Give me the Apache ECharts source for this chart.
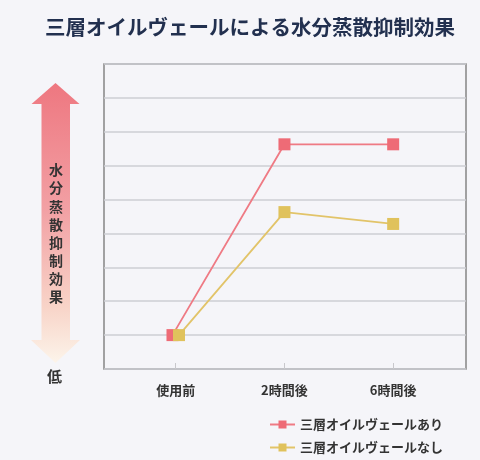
<!DOCTYPE html>
<html>
<head>
<meta charset="utf-8">
<script src="https://cdn.jsdelivr.net/npm/echarts@6/dist/echarts.min.js"></script>
<style>
  html, body { margin: 0; padding: 0; background: #f5f5f9; }
  #chart { width: 480px; height: 460px; }
</style>
</head>
<body>
<div id="chart"></div>
<script>
const categories = ['使用前', '2時間後', '6時間後'];
const seriesNames = ['三層オイルヴェールあり', '三層オイルヴェールなし'];
// x = category index (first points sit slightly apart in the picture)
const ariX = [-0.03, 1, 2];
const ariValues = [1, 6.63, 6.63];
const nashiX = [0.03, 1, 2];
const nashiValues = [1, 4.63, 4.28];
const yTicks = [0, 1, 2, 3, 4, 5, 6, 7, 8, 9];
const axisLabelText = '水分蒸散抑制効果';
const lowLabel = '低';

const FONT = '"Noto Sans CJK JP", "Noto Sans", sans-serif';

const chart = echarts.init(document.getElementById('chart'));

const toPairs = (xs, ys) => xs.map((x, i) => [x, ys[i]]);

const option = {
  backgroundColor: '#f5f5f9',
  textStyle: { fontFamily: FONT },
  title: {
    text: '三層オイルヴェールによる水分蒸散抑制効果',
    left: 45,
    top: 17,
    padding: 0,
    textStyle: { fontFamily: FONT, fontSize: 20.5, fontWeight: 'bold', color: '#22304f' }
  },
  grid: {
    show: true,
    left: 104,
    right: 14,
    top: 64,
    bottom: 91,
    borderColor: '#858585',
    borderWidth: 1.5
  },
  legend: {
    orient: 'vertical',
    left: 269,
    top: 418,
    padding: 0,
    itemWidth: 25,
    itemHeight: 10,
    itemGap: 10,
    textStyle: { fontFamily: FONT, fontSize: 13, fontWeight: 'bold', color: '#333' },
    data: seriesNames
  },
  xAxis: {
    type: 'value',
    min: -0.66,
    max: 2.67,
    axisLine: { show: false },
    splitLine: { show: false },
    axisTick: {
      show: true,
      inside: true,
      length: 6,
      customValues: [0, 1, 2],
      lineStyle: { color: '#c8c8cc' }
    },
    axisLabel: {
      customValues: [0, 1, 2],
      margin: 15,
      fontFamily: FONT,
      fontSize: 13,
      fontWeight: 'bold',
      color: '#333',
      formatter: v => categories[Math.round(v)]
    }
  },
  yAxis: {
    type: 'value',
    min: yTicks[0],
    max: yTicks[yTicks.length - 1],
    interval: 1,
    axisLine: { show: false },
    axisTick: { show: false },
    axisLabel: { show: false },
    splitLine: { lineStyle: { color: '#cdced3', width: 1.5 } }
  },
  series: [
    {
      name: seriesNames[0],
      type: 'line',
      data: toPairs(ariX, ariValues),
      symbol: 'rect',
      symbolSize: 12,
      lineStyle: { color: '#ef7a84', width: 1.8 },
      itemStyle: { color: '#ee6b76' },
      z: 2
    },
    {
      name: seriesNames[1],
      type: 'line',
      data: toPairs(nashiX, nashiValues),
      symbol: 'rect',
      symbolSize: 12,
      lineStyle: { color: '#e2c469', width: 1.8 },
      itemStyle: { color: '#e0c25c' },
      z: 3
    }
  ],
  graphic: [
    {
      type: 'polygon',
      shape: {
        points: [
          [55.5, 83], [79.5, 104], [70, 104], [70, 340], [80, 340],
          [55.5, 363], [31, 340], [41.5, 340], [41.5, 104], [31.5, 104]
        ]
      },
      style: {
        fill: new echarts.graphic.LinearGradient(0, 0, 0, 1, [
          { offset: 0, color: '#ee7780' },
          { offset: 0.45, color: '#f2a0a4' },
          { offset: 0.8, color: '#f8d4c8' },
          { offset: 1, color: '#fcf4ea' }
        ])
      },
      z: 0
    },
    {
      type: 'text',
      left: 49,
      top: 161,
      style: {
        text: axisLabelText.split('').join('\n'),
        fontFamily: FONT,
        fontSize: 14,
        fontWeight: 'bold',
        lineHeight: 18.1,
        fill: '#333'
      },
      z: 5
    },
    {
      type: 'text',
      left: 47,
      top: 369,
      style: {
        text: lowLabel,
        fontFamily: FONT,
        fontSize: 15,
        fontWeight: 'bold',
        fill: '#333'
      },
      z: 5
    }
  ]
};

chart.setOption(option);
</script>
</body>
</html>
